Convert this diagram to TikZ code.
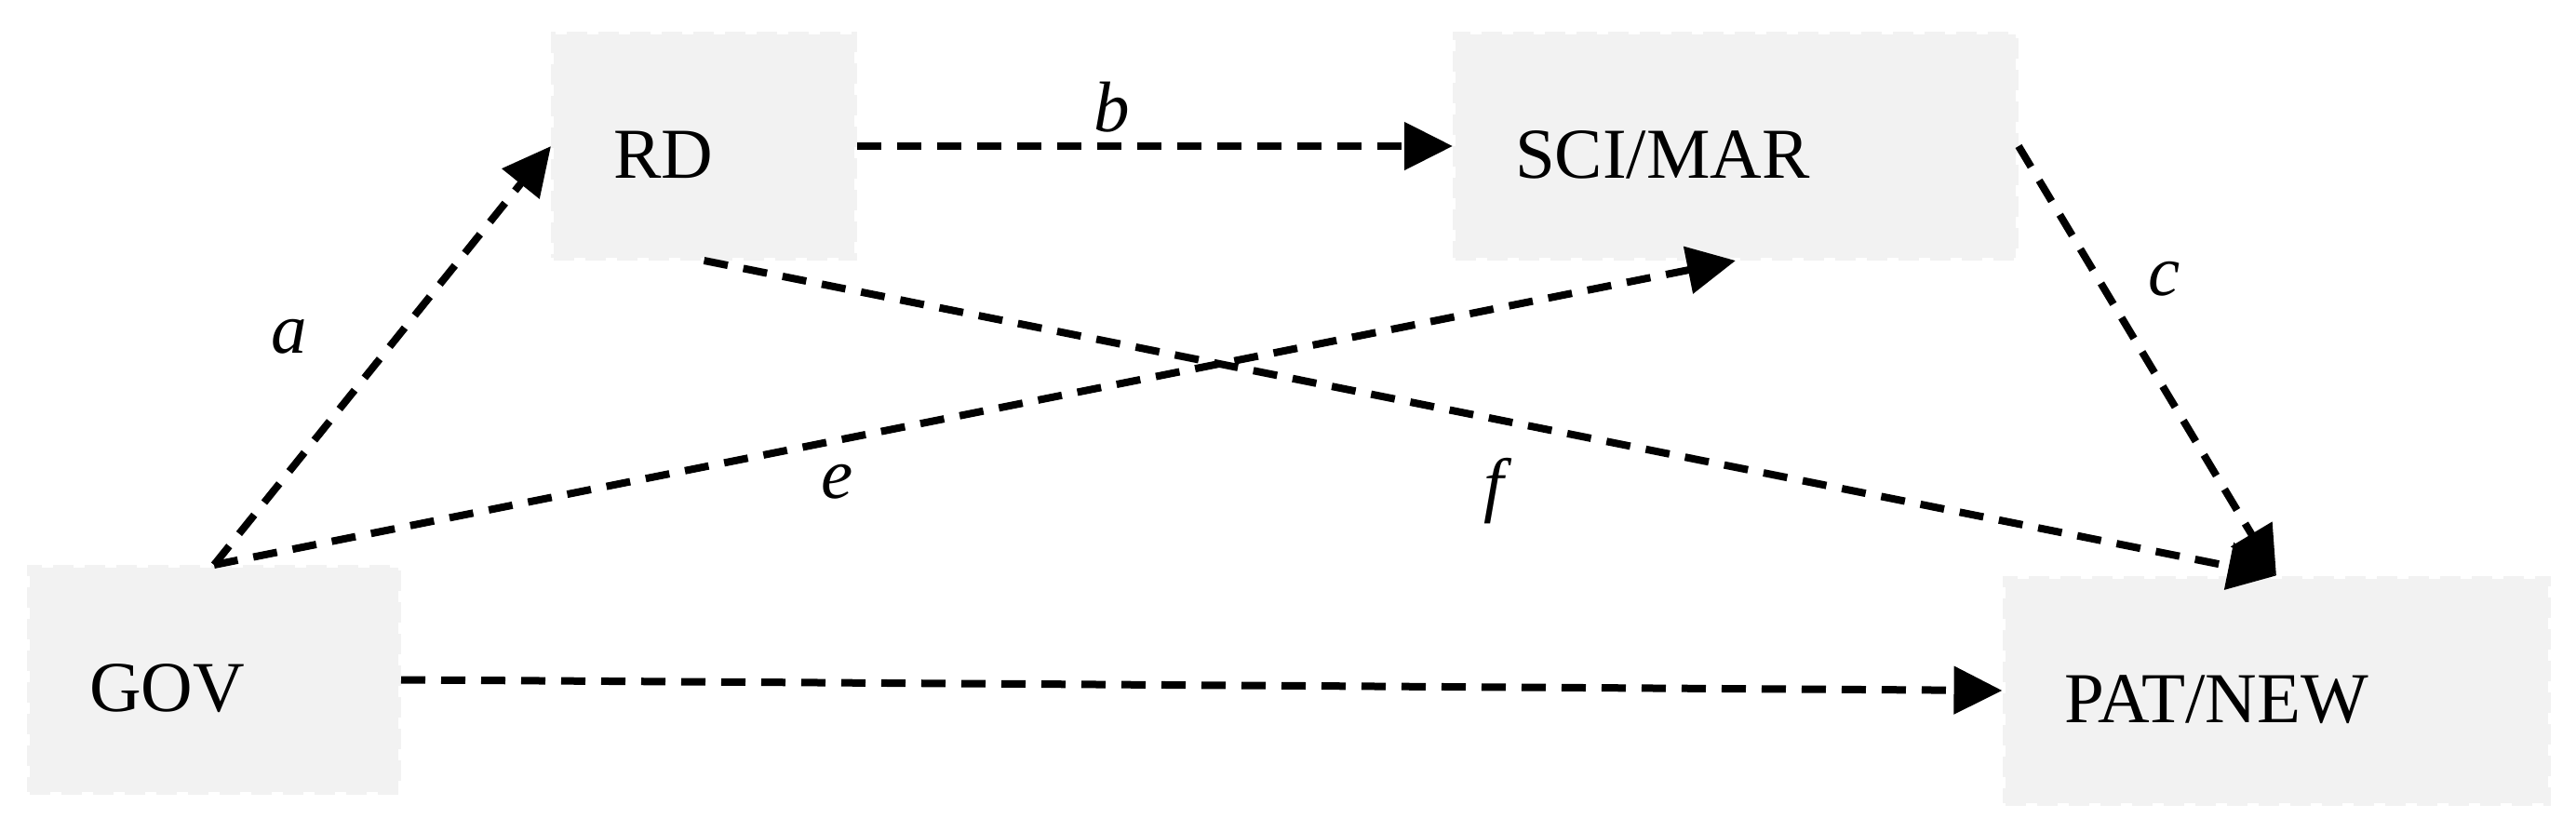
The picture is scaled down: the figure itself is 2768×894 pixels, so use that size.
\documentclass[tikz,border=0pt]{standalone}
\usepackage{fontspec}
\setmainfont{Liberation Serif}
\usetikzlibrary{arrows.meta}
\definecolor{boxgray}{HTML}{F2F2F2}
\begin{document}
\begin{tikzpicture}[x=1pt,y=-1pt,
  box/.style={fill=boxgray, draw=boxgray, line width=6pt, dash pattern=on 22pt off 12pt,
    inner xsep=64pt, inner ysep=0pt, align=left,
    font=\fontsize{77}{92}\selectfont, text height=68pt, text depth=0pt},
  conn/.style={line width=8pt, dash pattern=on 26pt off 17pt,
    -{Triangle[length=52pt,width=50pt]}},
  lab/.style={font=\fontsize{77}{92}\selectfont\itshape, inner sep=0pt}]
\useasboundingbox (0,0) rectangle (2768,894);
\node[box, text width=268pt, minimum height=241pt] (GOV) at (230,730.5) {GOV};
\node[box, text width=195pt, minimum height=240pt] (RD) at (756.5,157) {RD};
\node[box, text width=474pt, minimum height=240pt] (SCI) at (1865,157) {SCI/MAR};
\node[box, text width=455pt, minimum height=241pt] (PAT) at (2446,742) {PAT/NEW};
\draw[conn] (GOV.north) -- (RD.west);
\draw[conn] (GOV.north) -- (SCI.south);
\draw[conn] (RD.east) -- (SCI.west);
\draw[conn] (SCI.east) -- (PAT.north);
\draw[conn] (RD.south) -- (PAT.north);
\draw[conn] (GOV.east) -- (PAT.west);
\node[lab] (la) at (311,362) {a};
\node[lab] (lb) at (1195,115) {b};
\node[lab] (lc) at (2326,300) {c};
\node[lab] (le) at (900,518) {e};
\node[lab] (lf) at (1605,528) {f};
\end{tikzpicture}
\end{document}
